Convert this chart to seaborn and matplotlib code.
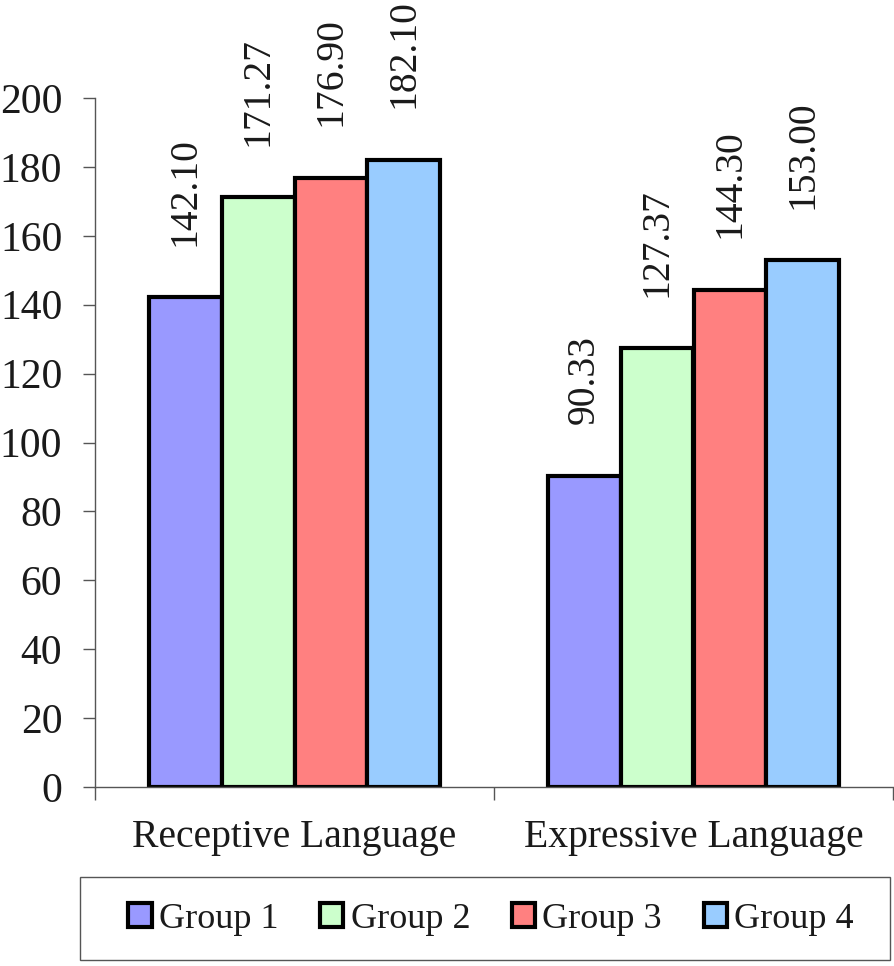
import pandas as pd
import seaborn as sns
import matplotlib.pyplot as plt
from matplotlib.patches import Rectangle

categories = ["Receptive Language", "Expressive Language"]
groups = ["Group 1", "Group 2", "Group 3", "Group 4"]
receptive = [142.10, 171.27, 176.90, 182.10]
expressive = [90.33, 127.37, 144.30, 153.00]
colors = ["#9999FF", "#CCFFCC", "#FF8080", "#99CCFF"]

rows = []
for cat, vals in zip(categories, [receptive, expressive]):
    for g, v in zip(groups, vals):
        rows.append({"Domain": cat, "Group": g, "Score": v})
data = pd.DataFrame(rows)

sns.set_style("white")
plt.rcParams["font.family"] = ["Liberation Serif", "DejaVu Serif"]
plt.rcParams["text.color"] = "#1a1a1a"

fig = plt.figure(figsize=(8.94, 9.66), dpi=100)
ax = fig.add_axes([95 / 894, 179 / 966, 798 / 894, 689 / 966])

sns.barplot(
    data=data, x="Domain", y="Score", hue="Group",
    order=categories, hue_order=groups, palette=colors,
    width=0.73, edgecolor="black", linewidth=3, saturation=1,
    ax=ax, legend=True,
)

for cont in ax.containers:
    ax.bar_label(cont, fmt="%.2f", rotation=90, padding=37, fontsize=28.5,
                 color="#1a1a1a")

ax.set_xlim(-0.5, 1.5)
ax.set_ylim(0, 200)
ax.set_yticks(range(0, 201, 20))
ax.set_xlabel("")
ax.set_ylabel("")

sns.despine(ax=ax, top=True, right=True)
for s in ["left", "bottom"]:
    ax.spines[s].set_color("#555555")
    ax.spines[s].set_linewidth(1.0)

ax.tick_params(axis="y", direction="out", length=8.5, width=1, color="#555555",
               labelsize=30, labelcolor="#1a1a1a", pad=15, left=True)
ax.tick_params(axis="x", which="major", length=0, labelsize=28.5,
               labelcolor="#1a1a1a", pad=23)
ax.set_xticks([-0.5, 0.5, 1.5], minor=True)
ax.tick_params(axis="x", which="minor", direction="out", length=9, width=1,
               color="#555555", bottom=True)

# legend box drawn separately (Excel style: wide box, roomy sides)
fig.patches.append(Rectangle((80 / 894, 6 / 966), 810 / 894, 83 / 966,
                             transform=fig.transFigure, fill=False,
                             edgecolor="#555555", linewidth=1.0))

handles, labels = ax.get_legend_handles_labels()
ax.get_legend().remove()
leg = fig.legend(
    handles, labels, ncol=4, loc="center",
    bbox_to_anchor=(491 / 894, 47 / 966),
    frameon=False, fontsize=26,
    handlelength=0.65, handleheight=0.65, handletextpad=0.2,
    columnspacing=1.15,
)
for h in leg.legend_handles:
    h.set_linewidth(3)
    h.set_edgecolor("black")

fig.savefig("out.png", dpi=100)
